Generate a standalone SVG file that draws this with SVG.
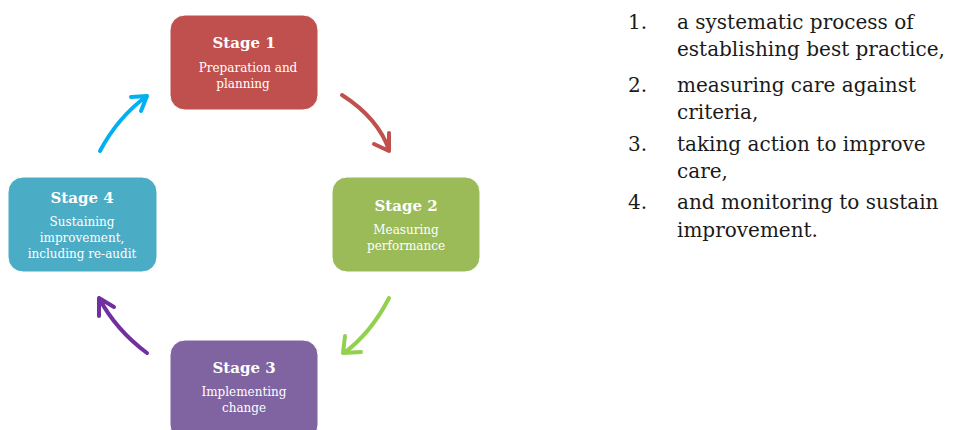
<svg xmlns="http://www.w3.org/2000/svg" width="955" height="430" viewBox="0 0 955 430">
<style>
.box{stroke:#fff;stroke-width:1}
.t{font-family:"DejaVu Serif","Liberation Serif",serif;fill:#fff;text-anchor:middle}
.h{font-size:15px;font-weight:bold}
.b{font-size:12px}
.r{font-family:"DejaVu Serif","Liberation Serif",serif;font-size:20px;fill:#1a1a1a}
.arr{fill:none;stroke-width:4;stroke-linecap:round;stroke-linejoin:round}
</style>
<rect width="955" height="430" fill="#fff"/>
<g id="stage1">
<rect class="box" x="170" y="15" width="148" height="95" rx="15" fill="#C0504D"/>
<text class="t h" x="244" y="48">Stage 1</text>
<text class="t b" x="248" y="72">Preparation and</text>
<text class="t b" x="243" y="88">planning</text>
</g>
<g id="stage2">
<rect class="box" x="332" y="177" width="148" height="95" rx="15" fill="#9BBB59"/>
<text class="t h" x="406" y="211">Stage 2</text>
<text class="t b" x="406" y="234">Measuring</text>
<text class="t b" x="406" y="250">performance</text>
</g>
<g id="stage3">
<rect class="box" x="170" y="340" width="148" height="100" rx="15" fill="#8064A2"/>
<text class="t h" x="244" y="373">Stage 3</text>
<text class="t b" x="244" y="396">Implementing</text>
<text class="t b" x="244" y="412">change</text>
</g>
<g id="stage4">
<rect class="box" x="8" y="177" width="149" height="95" rx="15" fill="#4BACC6"/>
<text class="t h" x="82" y="203">Stage 4</text>
<text class="t b" x="82" y="226">Sustaining</text>
<text class="t b" x="82" y="242">improvement,</text>
<text class="t b" x="82" y="258">including re-audit</text>
</g>
<g id="connectors">
<path class="arr" stroke="#C0504D" d="M342,95 Q378,118 389,150 M374,144 L389,151 L389,133"/>
<path class="arr" stroke="#92D050" d="M389,298 Q371,333 344,353 M345,336 L343,353 L361,352"/>
<path class="arr" stroke="#7030A0" d="M147,353 Q116,330 99,298 M99,316 L99,298 L114,307"/>
<path class="arr" stroke="#00B0F0" d="M100,151 Q118,117 147,96 M131,97 L147,96 L141,111"/>
</g>
<g id="list">
<text class="r" x="628" y="29">1.</text><text class="r" x="677" y="29">a systematic process of</text>
<text class="r" x="677" y="56">establishing best practice,</text>
<text class="r" x="628" y="92">2.</text><text class="r" x="677" y="92">measuring care against</text>
<text class="r" x="677" y="119">criteria,</text>
<text class="r" x="628" y="151">3.</text><text class="r" x="677" y="151">taking action to improve</text>
<text class="r" x="677" y="178">care,</text>
<text class="r" x="628" y="209">4.</text><text class="r" x="677" y="209">and monitoring to sustain</text>
<text class="r" x="677" y="237">improvement.</text>
</g>
</svg>
